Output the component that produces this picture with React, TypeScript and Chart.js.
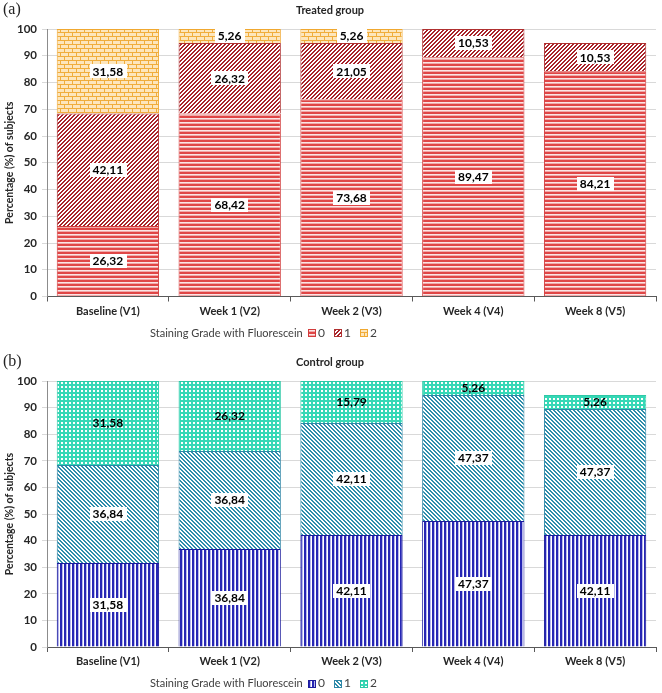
import React, { useEffect, useRef } from "react";
import { Chart, registerables } from "chart.js";

Chart.register(...registerables);

const categories = ["Baseline (V1)", "Week 1 (V2)", "Week 2 (V3)", "Week 4 (V4)", "Week 8 (V5)"];
const gradeLabels = ["0", "1", "2"];
const treatedGrade0 = [26.32, 68.42, 73.68, 89.47, 84.21];
const treatedGrade1 = [42.11, 26.32, 21.05, 10.53, 10.53];
const treatedGrade2 = [31.58, 5.26, 5.26, 0, 0];
const controlGrade0 = [31.58, 36.84, 42.11, 47.37, 42.11];
const controlGrade1 = [36.84, 36.84, 42.11, 47.37, 47.37];
const controlGrade2 = [31.58, 26.32, 15.79, 5.26, 5.26];
const yTicks = [0, 10, 20, 30, 40, 50, 60, 70, 80, 90, 100];

const FONT = "Lato, 'Open Sans', sans-serif";

function tile(w: number, h: number, draw: (ctx: CanvasRenderingContext2D) => void) {
  const c = document.createElement("canvas");
  c.width = w;
  c.height = h;
  const ctx = c.getContext("2d")!;
  draw(ctx);
  return ctx.createPattern(c, "repeat")!;
}

function makePatterns() {
  const px = (ctx: CanvasRenderingContext2D, x: number, y: number, col: string) => {
    ctx.fillStyle = col;
    ctx.fillRect(x, y, 1, 1);
  };
  const tHoriz = tile(4, 4, (ctx) => {
    ctx.fillStyle = "#e04646";
    ctx.fillRect(0, 0, 4, 2);
    ctx.fillStyle = "#fbe4e4";
    ctx.fillRect(0, 2, 4, 1);
    ctx.fillStyle = "#f0a8a8";
    ctx.fillRect(0, 3, 4, 1);
  });
  const tDiag = tile(4, 4, (ctx) => {
    ctx.fillStyle = "#ffffff";
    ctx.fillRect(0, 0, 4, 4);
    for (let x = 0; x < 4; x++)
      for (let y = 0; y < 4; y++) {
        const k = (x + y) % 4;
        if (k === 0 || k === 1) px(ctx, x, y, "#a8232a");
      }
  });
  const tBrick = tile(8, 8, (ctx) => {
    ctx.fillStyle = "#fde6bd";
    ctx.fillRect(0, 0, 8, 8);
    ctx.fillStyle = "#f0ad3c";
    ctx.fillRect(0, 0, 8, 1);
    ctx.fillRect(0, 4, 8, 1);
    ctx.fillRect(0, 1, 1, 3);
    ctx.fillRect(4, 5, 1, 3);
  });
  const cVert = tile(4, 4, (ctx) => {
    ctx.fillStyle = "#ffffff";
    ctx.fillRect(0, 0, 4, 4);
    ctx.fillStyle = "#2626b4";
    ctx.fillRect(0, 0, 2, 4);
    ctx.fillStyle = "#b8b8ec";
    ctx.fillRect(2, 0, 1, 4);
  });
  const cDiag = tile(4, 4, (ctx) => {
    ctx.fillStyle = "#ffffff";
    ctx.fillRect(0, 0, 4, 4);
    for (let x = 0; x < 4; x++)
      for (let y = 0; y < 4; y++) {
        const k = (x - y + 8) % 4;
        if (k === 0 || k === 1) px(ctx, x, y, "#2f8eac");
      }
  });
  const cDots = tile(4, 4, (ctx) => {
    ctx.fillStyle = "#36d8b6";
    ctx.fillRect(0, 0, 4, 4);
    ctx.fillStyle = "#ffffff";
    ctx.fillRect(1, 1, 2, 2);
  });
  return { tHoriz, tDiag, tBrick, cVert, cDiag, cDots };
}

type Cfg = {
  title: string;
  series: number[][];
  fills: CanvasPattern[];
  borders: string[];
  boxed: boolean[];
  top: number;
  bottomAxis: number;
  height: number;
};

function fmt(v: number) {
  return v.toFixed(2).replace(".", ",");
}

function buildChart(canvas: HTMLCanvasElement, cfg: Cfg) {
  const overlay = {
    id: "overlay",
    afterDraw(chart: any) {
      const ctx: CanvasRenderingContext2D = chart.ctx;
      ctx.save();
      // title
      ctx.font = `bold 11px ${FONT}`;
      ctx.fillStyle = "#262626";
      ctx.textAlign = "center";
      ctx.textBaseline = "middle";
      ctx.fillText(cfg.title, 330, cfg.top - 19);
      // data labels
      ctx.font = `bold 12px ${FONT}`;
      cfg.series.forEach((arr, i) => {
        const meta = chart.getDatasetMeta(i);
        meta.data.forEach((bar: any, j: number) => {
          const v = arr[j];
          if (!v) return;
          const p = bar.getProps(["x", "y", "base"], true);
          const cy = (p.y + p.base) / 2;
          const t = fmt(v);
          const w = ctx.measureText(t).width;
          if (cfg.boxed[i]) {
            ctx.fillStyle = "#ffffff";
            ctx.fillRect(Math.round(p.x - w / 2 - 3), Math.round(cy - 7), Math.round(w + 6), 14);
          }
          ctx.fillStyle = "#000000";
          ctx.textAlign = "center";
          ctx.textBaseline = "middle";
          ctx.fillText(t, p.x, cy + 0.5);
        });
      });
      // legend
      const ly = chart.chartArea.bottom + 36.5;
      ctx.font = `11px ${FONT}`;
      ctx.fillStyle = "#404040";
      ctx.textAlign = "left";
      ctx.textBaseline = "middle";
      const txt = "Staining Grade with Fluorescein";
      ctx.fillText(txt, 150, ly);
      let x = Math.round(150 + ctx.measureText(txt).width + 5);
      ctx.font = `12px ${FONT}`;
      gradeLabels.forEach((g, i) => {
        ctx.fillStyle = cfg.fills[i];
        ctx.fillRect(x, Math.round(ly - 4), 8, 8);
        ctx.strokeStyle = cfg.borders[i];
        ctx.lineWidth = 1;
        ctx.strokeRect(x + 0.5, Math.round(ly - 4) + 0.5, 7, 7);
        x += 10;
        ctx.fillStyle = "#404040";
        ctx.fillText(g, x, ly);
        x += Math.round(ctx.measureText(g).width + 9);
      });
      ctx.restore();
    },
  };

  return new Chart(canvas, {
    type: "bar",
    data: {
      labels: categories,
      datasets: cfg.series.map((arr, i) => ({
        label: gradeLabels[i],
        data: arr,
        backgroundColor: cfg.fills[i],
        borderColor: cfg.borders[i],
        borderWidth: 1,
        categoryPercentage: 0.84,
        barPercentage: 1,
      })),
    },
    options: {
      animation: false,
      responsive: false,
      maintainAspectRatio: false,
      layout: { padding: { top: cfg.top, right: 6, left: 0, bottom: 0 } },
      plugins: {
        legend: { display: false },
        title: { display: false },
        tooltip: { enabled: false },
      },
      scales: {
        x: {
          stacked: true,
          grid: { drawOnChartArea: false, tickLength: 5, color: "#595959", offset: true },
          border: { color: "#595959" },
          ticks: { font: { family: FONT, size: 11, weight: "bold" }, color: "#262626", padding: 3 },
          afterFit: (s: any) => {
            s.height = cfg.height - cfg.bottomAxis;
          },
        },
        y: {
          stacked: true,
          min: 0,
          max: 100,
          afterBuildTicks: (s: any) => {
            s.ticks = yTicks.map((v) => ({ value: v }));
          },
          grid: { color: "#d9d9d9", tickLength: 5 },
          border: { color: "#8c8c8c" },
          ticks: { font: { family: FONT, size: 11.5, weight: "bold" }, color: "#262626", padding: 5 },
          title: {
            display: true,
            text: "Percentage (%) of subjects",
            font: { family: FONT, size: 10.5, weight: "bold" },
            color: "#262626",
            padding: { top: 3, bottom: 0 },
          },
          afterFit: (s: any) => {
            s.width = 47;
          },
        },
      },
    },
    plugins: [overlay],
  } as any);
}

export default function App() {
  const refA = useRef<HTMLCanvasElement>(null);
  const refB = useRef<HTMLCanvasElement>(null);
  useEffect(() => {
    const p = makePatterns();
    const a = buildChart(refA.current!, {
      title: "Treated group",
      series: [treatedGrade0, treatedGrade1, treatedGrade2],
      fills: [p.tHoriz, p.tDiag, p.tBrick],
      borders: ["#d23c3c", "#b03030", "#f0a830"],
      boxed: [true, true, true],
      top: 29,
      bottomAxis: 296.5,
      height: 345,
    });
    const b = buildChart(refB.current!, {
      title: "Control group",
      series: [controlGrade0, controlGrade1, controlGrade2],
      fills: [p.cVert, p.cDiag, p.cDots],
      borders: ["#1c1c9c", "#2e86a6", "#2ec8a6"],
      boxed: [true, true, false],
      top: 36,
      bottomAxis: 302,
      height: 348,
    });
    return () => {
      a.destroy();
      b.destroy();
    };
  }, []);
  const lab: React.CSSProperties = {
    position: "absolute",
    left: 3,
    fontFamily: "'Liberation Serif', 'DejaVu Serif', serif",
    fontSize: 16,
    lineHeight: "16px",
    color: "#222",
  };
  return (
    <div style={{ position: "absolute", left: 0, top: 0, width: 662, height: 693, background: "#fff" }}>
      <canvas ref={refA} width={662} height={345} style={{ position: "absolute", left: 0, top: 0 }} />
      <canvas ref={refB} width={662} height={348} style={{ position: "absolute", left: 0, top: 345 }} />
      <div style={{ ...lab, top: 1 }}>(a)</div>
      <div style={{ ...lab, top: 353 }}>(b)</div>
    </div>
  );
}
